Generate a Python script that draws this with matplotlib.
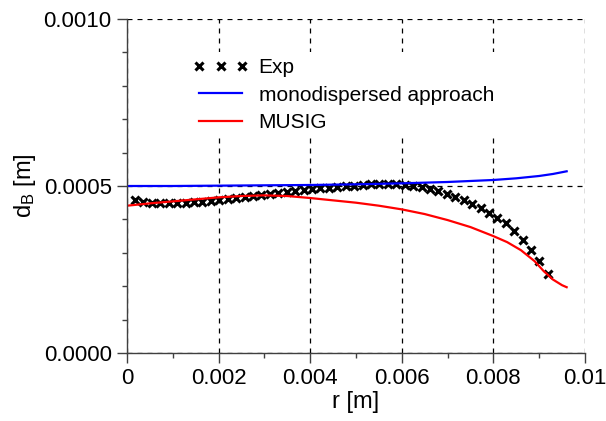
import numpy as np
import matplotlib
matplotlib.use("Agg")
import matplotlib.pyplot as plt
from matplotlib.ticker import MultipleLocator, FixedLocator

plt.rcParams['font.family'] = ['Liberation Sans', 'DejaVu Sans']
plt.rcParams['mathtext.default'] = 'regular'

# experimental data
r_exp = [0.000175, 0.000359, 0.000543, 0.000727, 0.000911, 0.001095, 0.001279,
         0.001463, 0.001647, 0.001831, 0.002015, 0.002199, 0.002383, 0.002567,
         0.002751, 0.002935, 0.003119, 0.003303, 0.003487, 0.003671, 0.003855,
         0.004039, 0.004223, 0.004407, 0.004591, 0.004775, 0.004959, 0.005143,
         0.005327, 0.005511, 0.005695, 0.005879, 0.006063, 0.006247, 0.006431,
         0.006615, 0.006799, 0.006983, 0.007167, 0.007351, 0.007535, 0.007719,
         0.007903, 0.008087, 0.008271, 0.008455, 0.008639, 0.008823, 0.009007,
         0.009191]
d_exp = [4.58, 4.52, 4.50, 4.48, 4.48, 4.49, 4.50, 4.51, 4.53, 4.55,
         4.58, 4.61, 4.64, 4.67, 4.70, 4.74, 4.77, 4.80, 4.83, 4.86,
         4.89, 4.91, 4.93, 4.95, 4.97, 4.99, 5.01, 5.03, 5.05, 5.06,
         5.06, 5.05, 5.03, 5.00, 4.96, 4.91, 4.85, 4.77, 4.67, 4.57,
         4.46, 4.34, 4.20, 4.05, 3.88, 3.66, 3.39, 3.09, 2.75, 2.38]

# monodispersed approach
r_mono = [0.0, 0.001, 0.002, 0.003, 0.004, 0.005, 0.006, 0.007, 0.008,
          0.0085, 0.009, 0.0093, 0.0096]
d_mono = [5.00, 5.00, 5.01, 5.02, 5.03, 5.05, 5.08, 5.12, 5.18,
          5.23, 5.30, 5.36, 5.44]

# MUSIG
r_musig = [0.0, 0.0005, 0.001, 0.0015, 0.002, 0.0025, 0.003, 0.0035, 0.004,
           0.0045, 0.005, 0.0055, 0.006, 0.0065, 0.007, 0.0075, 0.008,
           0.0083, 0.0086, 0.0089, 0.0091, 0.0093, 0.0095, 0.0096]
d_musig = [4.41, 4.48, 4.54, 4.60, 4.66, 4.70, 4.72, 4.70, 4.64,
           4.57, 4.50, 4.41, 4.30, 4.16, 3.98, 3.77, 3.50,
           3.32, 3.08, 2.75, 2.45, 2.20, 2.03, 1.97]

x_ticks = [0, 0.002, 0.004, 0.006, 0.008, 0.01]
x_labels = ["0", "0.002", "0.004", "0.006", "0.008", "0.01"]
y_ticks = [0.0, 0.0005, 0.0010]
y_labels = ["0.0000", "0.0005", "0.0010"]

fig = plt.figure(figsize=(6.06, 4.21), dpi=100)
ax = fig.add_axes([0.2096, 0.1615, 0.7557, 0.7934])

ax.plot(r_exp, np.array(d_exp) * 1e-4, linestyle='none', marker='x',
        color='k', markersize=5.5, markeredgewidth=2.2, label='Exp')
ax.plot(r_mono, np.array(d_mono) * 1e-4, color='#0000ff', lw=1.6,
        label='monodispersed approach')
ax.plot(r_musig, np.array(d_musig) * 1e-4, color='#ff0000', lw=1.6,
        label='MUSIG')

ax.set_xlim(0, 0.01)
ax.set_ylim(0, 0.001)
ax.xaxis.set_major_locator(FixedLocator(x_ticks))
ax.set_xticklabels(x_labels)
ax.xaxis.set_minor_locator(MultipleLocator(0.001))
ax.yaxis.set_major_locator(FixedLocator(y_ticks))
ax.set_yticklabels(y_labels)
ax.yaxis.set_minor_locator(MultipleLocator(0.0001))

ax.tick_params(which='major', direction='out', length=7, width=1,
               color='#404040', labelsize=16, pad=4)
ax.tick_params(which='minor', direction='out', length=3.5, width=1,
               color='#404040')

ax.grid(True, which='major', color='k', lw=0.9, linestyle=(0, (4, 4)))
ax.set_axisbelow(True)

for s in ['top', 'right']:
    ax.spines[s].set_visible(False)
for s in ['left', 'bottom']:
    ax.spines[s].set_color('#404040')
    ax.spines[s].set_linewidth(1)

ax.set_xlabel('r [m]', fontsize=17, labelpad=1)
ax.set_ylabel('d$_B$ [m]', fontsize=17, labelpad=4)

leg = ax.legend(loc='upper left', bbox_to_anchor=(0.1305, 0.901), frameon=True,
                fontsize=15, numpoints=3, handlelength=2.65, handletextpad=0.5,
                labelspacing=0.4, borderpad=0.3, borderaxespad=0,
                fancybox=False, facecolor='white', edgecolor='none',
                framealpha=1)

fig.savefig('out.png', dpi=100)
